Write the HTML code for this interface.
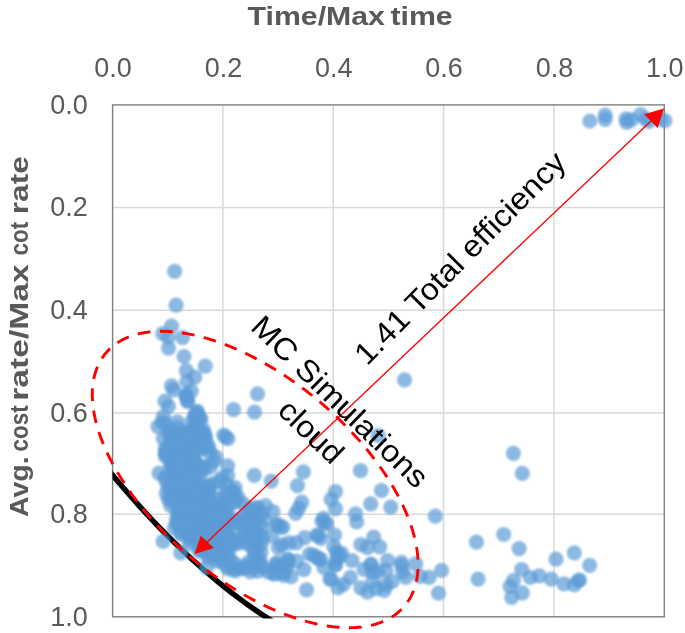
<!DOCTYPE html><html><head><meta charset="utf-8"><title>Chart</title><style>html,body{margin:0;padding:0;background:#fff}svg{display:block}text{font-family:"Liberation Sans",sans-serif}</style></head><body>
<svg width="685" height="633" viewBox="0 0 685 633">
<rect width="685" height="633" fill="#fff"/>
<g>
<defs><clipPath id="pa"><rect x="112.6" y="104.9" width="551.7" height="513.6"/></clipPath></defs>
<path d="M222.9 104.9V616.8M333.3 104.9V616.8M443.6 104.9V616.8M554.0 104.9V616.8M112.6 207.5H664.3M112.6 310.3H664.3M112.6 413.0H664.3M112.6 514.2H664.3" stroke="#d9d9d9" stroke-width="1.5" fill="none"/>
<rect x="112.6" y="104.9" width="551.7" height="511.9" fill="none" stroke="#7f7f7f" stroke-width="1.4"/>
<path d="M105.00 465.91 L109.36 471.24 L113.72 476.50 L118.08 481.69 L122.44 486.81 L126.79 491.86 L131.15 496.84 L135.51 501.76 L139.87 506.61 L144.23 511.38 L148.59 516.09 L152.95 520.73 L157.31 525.30 L161.67 529.81 L166.03 534.24 L170.38 538.61 L174.74 542.91 L179.10 547.14 L183.46 551.30 L187.82 555.39 L192.18 559.41 L196.54 563.37 L200.90 567.25 L205.26 571.07 L209.62 574.82 L213.97 578.50 L218.33 582.11 L222.69 585.65 L227.05 589.13 L231.41 592.54 L235.77 595.87 L240.13 599.14 L244.49 602.34 L248.85 605.47 L253.21 608.54 L257.56 611.53 L261.92 614.46 L266.28 617.31 L270.64 620.10 L275.00 622.82" stroke="#000" stroke-width="5.4" fill="none" clip-path="url(#pa)"/>
<defs><filter id="bl" x="100" y="90" width="585" height="543" filterUnits="userSpaceOnUse"><feGaussianBlur stdDeviation="0.8"/></filter></defs>
<g fill="#5b9bd5" fill-opacity="0.7" filter="url(#bl)">
<circle cx="184.7" cy="433.5" r="7.6"/>
<circle cx="198.3" cy="465.5" r="7.6"/>
<circle cx="167.7" cy="486.6" r="7.6"/>
<circle cx="191.8" cy="421.4" r="7.6"/>
<circle cx="191.2" cy="534.2" r="7.6"/>
<circle cx="171.9" cy="444.3" r="7.6"/>
<circle cx="182.5" cy="432.5" r="7.6"/>
<circle cx="171.5" cy="457.0" r="7.6"/>
<circle cx="201.2" cy="506.2" r="7.6"/>
<circle cx="187.8" cy="492.6" r="7.6"/>
<circle cx="177.2" cy="512.4" r="7.6"/>
<circle cx="191.4" cy="457.8" r="7.6"/>
<circle cx="183.2" cy="529.4" r="7.6"/>
<circle cx="200.8" cy="489.3" r="7.6"/>
<circle cx="220.0" cy="519.7" r="7.6"/>
<circle cx="171.6" cy="473.3" r="7.6"/>
<circle cx="208.5" cy="499.6" r="7.6"/>
<circle cx="217.8" cy="551.8" r="7.6"/>
<circle cx="194.3" cy="510.0" r="7.6"/>
<circle cx="227.6" cy="533.5" r="7.6"/>
<circle cx="188.7" cy="510.6" r="7.6"/>
<circle cx="165.4" cy="479.8" r="7.6"/>
<circle cx="179.8" cy="469.3" r="7.6"/>
<circle cx="192.7" cy="492.9" r="7.6"/>
<circle cx="220.5" cy="533.1" r="7.6"/>
<circle cx="190.6" cy="464.5" r="7.6"/>
<circle cx="220.6" cy="553.7" r="7.6"/>
<circle cx="175.3" cy="445.6" r="7.6"/>
<circle cx="178.9" cy="483.3" r="7.6"/>
<circle cx="187.6" cy="495.4" r="7.6"/>
<circle cx="197.0" cy="503.0" r="7.6"/>
<circle cx="221.6" cy="527.2" r="7.6"/>
<circle cx="220.0" cy="529.9" r="7.6"/>
<circle cx="189.1" cy="470.4" r="7.6"/>
<circle cx="170.6" cy="505.5" r="7.6"/>
<circle cx="177.4" cy="435.2" r="7.6"/>
<circle cx="170.5" cy="465.2" r="7.6"/>
<circle cx="203.3" cy="433.1" r="7.6"/>
<circle cx="186.2" cy="465.3" r="7.6"/>
<circle cx="195.0" cy="423.8" r="7.6"/>
<circle cx="170.5" cy="462.1" r="7.6"/>
<circle cx="180.9" cy="534.5" r="7.6"/>
<circle cx="197.8" cy="432.8" r="7.6"/>
<circle cx="180.7" cy="465.6" r="7.6"/>
<circle cx="218.6" cy="531.1" r="7.6"/>
<circle cx="216.4" cy="521.2" r="7.6"/>
<circle cx="178.5" cy="488.1" r="7.6"/>
<circle cx="165.8" cy="452.6" r="7.6"/>
<circle cx="208.3" cy="553.5" r="7.6"/>
<circle cx="187.3" cy="443.8" r="7.6"/>
<circle cx="178.5" cy="440.3" r="7.6"/>
<circle cx="177.1" cy="504.0" r="7.6"/>
<circle cx="221.6" cy="536.2" r="7.6"/>
<circle cx="194.7" cy="508.3" r="7.6"/>
<circle cx="206.3" cy="546.6" r="7.6"/>
<circle cx="214.1" cy="522.8" r="7.6"/>
<circle cx="194.6" cy="437.6" r="7.6"/>
<circle cx="172.1" cy="433.5" r="7.6"/>
<circle cx="221.9" cy="531.2" r="7.6"/>
<circle cx="177.5" cy="448.5" r="7.6"/>
<circle cx="182.7" cy="446.8" r="7.6"/>
<circle cx="201.5" cy="449.6" r="7.6"/>
<circle cx="190.8" cy="430.5" r="7.6"/>
<circle cx="193.3" cy="497.9" r="7.6"/>
<circle cx="198.0" cy="489.0" r="7.6"/>
<circle cx="165.2" cy="476.6" r="7.6"/>
<circle cx="175.0" cy="481.6" r="7.6"/>
<circle cx="184.9" cy="488.2" r="7.6"/>
<circle cx="199.5" cy="527.9" r="7.6"/>
<circle cx="170.8" cy="494.5" r="7.6"/>
<circle cx="179.9" cy="452.3" r="7.6"/>
<circle cx="200.0" cy="524.2" r="7.6"/>
<circle cx="203.2" cy="486.3" r="7.6"/>
<circle cx="196.8" cy="514.2" r="7.6"/>
<circle cx="193.0" cy="490.5" r="7.6"/>
<circle cx="208.7" cy="541.6" r="7.6"/>
<circle cx="168.6" cy="446.9" r="7.6"/>
<circle cx="209.8" cy="509.4" r="7.6"/>
<circle cx="191.6" cy="487.8" r="7.6"/>
<circle cx="185.7" cy="440.2" r="7.6"/>
<circle cx="184.4" cy="518.6" r="7.6"/>
<circle cx="214.5" cy="555.8" r="7.6"/>
<circle cx="222.3" cy="533.0" r="7.6"/>
<circle cx="180.6" cy="433.3" r="7.6"/>
<circle cx="204.6" cy="530.4" r="7.6"/>
<circle cx="193.0" cy="461.5" r="7.6"/>
<circle cx="199.4" cy="549.1" r="7.6"/>
<circle cx="172.3" cy="489.5" r="7.6"/>
<circle cx="176.9" cy="457.5" r="7.6"/>
<circle cx="183.5" cy="524.2" r="7.6"/>
<circle cx="182.6" cy="485.5" r="7.6"/>
<circle cx="175.4" cy="462.7" r="7.6"/>
<circle cx="165.2" cy="448.3" r="7.6"/>
<circle cx="195.7" cy="535.4" r="7.6"/>
<circle cx="189.2" cy="486.5" r="7.6"/>
<circle cx="208.0" cy="557.4" r="7.6"/>
<circle cx="217.3" cy="516.3" r="7.6"/>
<circle cx="217.8" cy="540.7" r="7.6"/>
<circle cx="179.5" cy="454.7" r="7.6"/>
<circle cx="193.4" cy="434.5" r="7.6"/>
<circle cx="192.5" cy="450.2" r="7.6"/>
<circle cx="199.0" cy="447.4" r="7.6"/>
<circle cx="188.4" cy="481.7" r="7.6"/>
<circle cx="196.2" cy="440.9" r="7.6"/>
<circle cx="165.4" cy="456.3" r="7.6"/>
<circle cx="212.0" cy="509.0" r="7.6"/>
<circle cx="188.9" cy="459.6" r="7.6"/>
<circle cx="210.3" cy="506.8" r="7.6"/>
<circle cx="211.0" cy="532.0" r="7.6"/>
<circle cx="215.5" cy="534.1" r="7.6"/>
<circle cx="201.4" cy="544.0" r="7.6"/>
<circle cx="207.7" cy="514.3" r="7.6"/>
<circle cx="172.5" cy="464.7" r="7.6"/>
<circle cx="199.7" cy="504.5" r="7.6"/>
<circle cx="204.1" cy="512.4" r="7.6"/>
<circle cx="196.2" cy="490.7" r="7.6"/>
<circle cx="168.8" cy="450.6" r="7.6"/>
<circle cx="207.8" cy="525.3" r="7.6"/>
<circle cx="203.5" cy="506.8" r="7.6"/>
<circle cx="169.0" cy="433.0" r="7.6"/>
<circle cx="180.3" cy="521.7" r="7.6"/>
<circle cx="183.5" cy="495.6" r="7.6"/>
<circle cx="181.2" cy="511.1" r="7.6"/>
<circle cx="208.3" cy="511.7" r="7.6"/>
<circle cx="182.6" cy="488.0" r="7.6"/>
<circle cx="193.7" cy="480.5" r="7.6"/>
<circle cx="193.4" cy="533.2" r="7.6"/>
<circle cx="181.2" cy="442.3" r="7.6"/>
<circle cx="220.8" cy="515.8" r="7.6"/>
<circle cx="195.1" cy="414.7" r="7.6"/>
<circle cx="195.5" cy="478.2" r="7.6"/>
<circle cx="186.0" cy="458.1" r="7.6"/>
<circle cx="212.0" cy="536.0" r="7.6"/>
<circle cx="209.6" cy="545.3" r="7.6"/>
<circle cx="182.5" cy="466.5" r="7.6"/>
<circle cx="191.4" cy="452.0" r="7.6"/>
<circle cx="180.0" cy="450.6" r="7.6"/>
<circle cx="196.7" cy="439.3" r="7.6"/>
<circle cx="204.4" cy="547.1" r="7.6"/>
<circle cx="212.2" cy="507.0" r="7.6"/>
<circle cx="183.1" cy="521.1" r="7.6"/>
<circle cx="199.7" cy="469.8" r="7.6"/>
<circle cx="174.7" cy="435.1" r="7.6"/>
<circle cx="195.8" cy="443.8" r="7.6"/>
<circle cx="192.8" cy="431.8" r="7.6"/>
<circle cx="190.5" cy="489.1" r="7.6"/>
<circle cx="188.1" cy="461.4" r="7.6"/>
<circle cx="172.1" cy="486.0" r="7.6"/>
<circle cx="204.3" cy="539.6" r="7.6"/>
<circle cx="177.8" cy="451.4" r="7.6"/>
<circle cx="218.7" cy="555.9" r="7.6"/>
<circle cx="197.4" cy="512.6" r="7.6"/>
<circle cx="172.2" cy="448.5" r="7.6"/>
<circle cx="204.7" cy="515.1" r="7.6"/>
<circle cx="197.6" cy="497.9" r="7.6"/>
<circle cx="188.8" cy="444.3" r="7.6"/>
<circle cx="183.3" cy="479.6" r="7.6"/>
<circle cx="179.0" cy="447.8" r="7.6"/>
<circle cx="225.5" cy="516.0" r="7.6"/>
<circle cx="190.9" cy="449.3" r="7.6"/>
<circle cx="206.7" cy="548.8" r="7.6"/>
<circle cx="185.6" cy="473.7" r="7.6"/>
<circle cx="178.2" cy="524.3" r="7.6"/>
<circle cx="178.3" cy="473.1" r="7.6"/>
<circle cx="206.6" cy="552.4" r="7.6"/>
<circle cx="173.4" cy="469.6" r="7.6"/>
<circle cx="185.1" cy="438.6" r="7.6"/>
<circle cx="223.9" cy="522.2" r="7.6"/>
<circle cx="181.9" cy="463.4" r="7.6"/>
<circle cx="186.8" cy="533.4" r="7.6"/>
<circle cx="211.8" cy="544.9" r="7.6"/>
<circle cx="185.7" cy="451.6" r="7.6"/>
<circle cx="180.8" cy="517.8" r="7.6"/>
<circle cx="184.3" cy="452.1" r="7.6"/>
<circle cx="188.7" cy="448.4" r="7.6"/>
<circle cx="191.5" cy="484.5" r="7.6"/>
<circle cx="216.7" cy="526.1" r="7.6"/>
<circle cx="184.5" cy="464.9" r="7.6"/>
<circle cx="176.6" cy="523.2" r="7.6"/>
<circle cx="166.2" cy="493.3" r="7.6"/>
<circle cx="170.2" cy="485.3" r="7.6"/>
<circle cx="200.3" cy="466.6" r="7.6"/>
<circle cx="196.5" cy="445.5" r="7.6"/>
<circle cx="215.7" cy="508.3" r="7.6"/>
<circle cx="217.8" cy="547.2" r="7.6"/>
<circle cx="166.6" cy="454.8" r="7.6"/>
<circle cx="201.3" cy="549.6" r="7.6"/>
<circle cx="180.6" cy="526.9" r="7.6"/>
<circle cx="202.2" cy="503.4" r="7.6"/>
<circle cx="177.9" cy="465.9" r="7.6"/>
<circle cx="173.0" cy="441.4" r="7.6"/>
<circle cx="180.3" cy="500.3" r="7.6"/>
<circle cx="184.0" cy="441.3" r="7.6"/>
<circle cx="199.2" cy="506.2" r="7.6"/>
<circle cx="169.8" cy="435.4" r="7.6"/>
<circle cx="182.1" cy="456.8" r="7.6"/>
<circle cx="190.7" cy="539.8" r="7.6"/>
<circle cx="176.6" cy="519.5" r="7.6"/>
<circle cx="203.8" cy="466.3" r="7.6"/>
<circle cx="196.3" cy="432.7" r="7.6"/>
<circle cx="195.4" cy="530.9" r="7.6"/>
<circle cx="203.7" cy="533.9" r="7.6"/>
<circle cx="174.3" cy="528.1" r="7.6"/>
<circle cx="189.9" cy="537.1" r="7.6"/>
<circle cx="178.0" cy="470.6" r="7.6"/>
<circle cx="197.1" cy="468.2" r="7.6"/>
<circle cx="171.5" cy="500.3" r="7.6"/>
<circle cx="183.6" cy="473.6" r="7.6"/>
<circle cx="170.9" cy="430.1" r="7.6"/>
<circle cx="196.7" cy="417.1" r="7.6"/>
<circle cx="210.9" cy="526.9" r="7.6"/>
<circle cx="196.7" cy="419.1" r="7.6"/>
<circle cx="214.5" cy="549.7" r="7.6"/>
<circle cx="181.6" cy="532.5" r="7.6"/>
<circle cx="180.8" cy="486.4" r="7.6"/>
<circle cx="201.1" cy="542.5" r="7.6"/>
<circle cx="204.3" cy="469.7" r="7.6"/>
<circle cx="187.1" cy="524.9" r="7.6"/>
<circle cx="192.3" cy="437.3" r="7.6"/>
<circle cx="201.5" cy="509.9" r="7.6"/>
<circle cx="178.5" cy="508.3" r="7.6"/>
<circle cx="178.4" cy="498.0" r="7.6"/>
<circle cx="194.4" cy="431.1" r="7.6"/>
<circle cx="205.3" cy="494.8" r="7.6"/>
<circle cx="186.4" cy="507.2" r="7.6"/>
<circle cx="198.0" cy="471.5" r="7.6"/>
<circle cx="199.3" cy="551.2" r="7.6"/>
<circle cx="176.8" cy="501.6" r="7.6"/>
<circle cx="196.4" cy="506.6" r="7.6"/>
<circle cx="183.8" cy="455.7" r="7.6"/>
<circle cx="214.1" cy="517.6" r="7.6"/>
<circle cx="185.5" cy="522.7" r="7.6"/>
<circle cx="208.5" cy="537.0" r="7.6"/>
<circle cx="199.4" cy="476.0" r="7.6"/>
<circle cx="181.0" cy="506.7" r="7.6"/>
<circle cx="180.7" cy="446.2" r="7.6"/>
<circle cx="211.6" cy="551.8" r="7.6"/>
<circle cx="210.4" cy="496.0" r="7.6"/>
<circle cx="186.1" cy="432.1" r="7.6"/>
<circle cx="208.3" cy="505.4" r="7.6"/>
<circle cx="208.6" cy="520.8" r="7.6"/>
<circle cx="168.2" cy="499.0" r="7.6"/>
<circle cx="216.5" cy="543.8" r="7.6"/>
<circle cx="222.5" cy="551.7" r="7.6"/>
<circle cx="177.2" cy="427.7" r="7.6"/>
<circle cx="196.2" cy="537.9" r="7.6"/>
<circle cx="190.4" cy="476.0" r="7.6"/>
<circle cx="209.1" cy="491.1" r="7.6"/>
<circle cx="195.4" cy="484.2" r="7.6"/>
<circle cx="195.7" cy="462.7" r="7.6"/>
<circle cx="177.7" cy="515.2" r="7.6"/>
<circle cx="195.9" cy="427.4" r="7.6"/>
<circle cx="214.4" cy="514.9" r="7.6"/>
<circle cx="214.4" cy="504.6" r="7.6"/>
<circle cx="186.8" cy="470.8" r="7.6"/>
<circle cx="189.3" cy="543.7" r="7.6"/>
<circle cx="178.9" cy="479.7" r="7.6"/>
<circle cx="198.0" cy="523.4" r="7.6"/>
<circle cx="186.3" cy="459.7" r="7.6"/>
<circle cx="206.4" cy="521.6" r="7.6"/>
<circle cx="174.9" cy="476.4" r="7.6"/>
<circle cx="172.1" cy="479.8" r="7.6"/>
<circle cx="176.3" cy="455.9" r="7.6"/>
<circle cx="179.8" cy="459.7" r="7.6"/>
<circle cx="197.4" cy="435.0" r="7.6"/>
<circle cx="226.4" cy="519.6" r="7.6"/>
<circle cx="214.9" cy="520.3" r="7.6"/>
<circle cx="191.8" cy="440.2" r="7.6"/>
<circle cx="177.2" cy="468.9" r="7.6"/>
<circle cx="208.4" cy="485.6" r="7.6"/>
<circle cx="173.1" cy="501.0" r="7.6"/>
<circle cx="189.9" cy="521.4" r="7.6"/>
<circle cx="200.7" cy="522.6" r="7.6"/>
<circle cx="191.0" cy="445.1" r="7.6"/>
<circle cx="210.2" cy="542.1" r="7.6"/>
<circle cx="218.6" cy="512.3" r="7.6"/>
<circle cx="184.0" cy="504.6" r="7.6"/>
<circle cx="193.1" cy="503.6" r="7.6"/>
<circle cx="190.2" cy="511.6" r="7.6"/>
<circle cx="205.9" cy="526.9" r="7.6"/>
<circle cx="188.9" cy="484.0" r="7.6"/>
<circle cx="214.0" cy="551.1" r="7.6"/>
<circle cx="197.2" cy="426.1" r="7.6"/>
<circle cx="200.8" cy="491.6" r="7.6"/>
<circle cx="209.9" cy="487.3" r="7.6"/>
<circle cx="181.0" cy="444.4" r="7.6"/>
<circle cx="197.7" cy="443.6" r="7.6"/>
<circle cx="215.8" cy="505.5" r="7.6"/>
<circle cx="194.0" cy="494.7" r="7.6"/>
<circle cx="216.4" cy="532.6" r="7.6"/>
<circle cx="194.0" cy="454.9" r="7.6"/>
<circle cx="199.1" cy="429.6" r="7.6"/>
<circle cx="191.3" cy="438.7" r="7.6"/>
<circle cx="183.3" cy="482.5" r="7.6"/>
<circle cx="191.4" cy="506.0" r="7.6"/>
<circle cx="223.4" cy="538.3" r="7.6"/>
<circle cx="170.5" cy="432.3" r="7.6"/>
<circle cx="179.0" cy="526.7" r="7.6"/>
<circle cx="221.9" cy="529.0" r="7.6"/>
<circle cx="202.9" cy="527.4" r="7.6"/>
<circle cx="227.7" cy="551.4" r="7.6"/>
<circle cx="232.2" cy="543.8" r="7.6"/>
<circle cx="226.6" cy="515.8" r="7.6"/>
<circle cx="228.3" cy="556.5" r="7.6"/>
<circle cx="221.7" cy="562.5" r="7.6"/>
<circle cx="220.0" cy="556.7" r="7.6"/>
<circle cx="217.9" cy="499.4" r="7.6"/>
<circle cx="210.4" cy="452.9" r="7.6"/>
<circle cx="229.4" cy="504.4" r="7.6"/>
<circle cx="205.9" cy="440.1" r="7.6"/>
<circle cx="225.5" cy="496.4" r="7.6"/>
<circle cx="207.6" cy="446.1" r="7.6"/>
<circle cx="213.7" cy="461.6" r="7.6"/>
<circle cx="236.1" cy="523.2" r="7.6"/>
<circle cx="221.4" cy="504.3" r="7.6"/>
<circle cx="219.6" cy="481.2" r="7.6"/>
<circle cx="210.1" cy="467.1" r="7.6"/>
<circle cx="229.0" cy="539.2" r="7.6"/>
<circle cx="229.2" cy="520.5" r="7.6"/>
<circle cx="222.9" cy="509.2" r="7.6"/>
<circle cx="226.5" cy="546.5" r="7.6"/>
<circle cx="228.4" cy="526.0" r="7.6"/>
<circle cx="204.4" cy="434.7" r="7.6"/>
<circle cx="216.7" cy="560.8" r="7.6"/>
<circle cx="235.8" cy="539.7" r="7.6"/>
<circle cx="213.2" cy="483.4" r="7.6"/>
<circle cx="239.8" cy="519.8" r="7.6"/>
<circle cx="227.7" cy="510.8" r="7.6"/>
<circle cx="228.1" cy="534.3" r="7.6"/>
<circle cx="203.3" cy="429.7" r="7.6"/>
<circle cx="229.6" cy="495.4" r="7.6"/>
<circle cx="264.5" cy="520.2" r="7.6"/>
<circle cx="260.3" cy="560.5" r="7.6"/>
<circle cx="226.8" cy="565.9" r="7.6"/>
<circle cx="261.6" cy="527.3" r="7.6"/>
<circle cx="254.2" cy="558.2" r="7.6"/>
<circle cx="257.4" cy="546.9" r="7.6"/>
<circle cx="249.0" cy="528.0" r="7.6"/>
<circle cx="258.4" cy="533.9" r="7.6"/>
<circle cx="241.4" cy="542.9" r="7.6"/>
<circle cx="249.1" cy="509.8" r="7.6"/>
<circle cx="253.3" cy="533.6" r="7.6"/>
<circle cx="238.0" cy="497.0" r="7.6"/>
<circle cx="256.9" cy="507.8" r="7.6"/>
<circle cx="234.9" cy="501.7" r="7.6"/>
<circle cx="243.7" cy="529.8" r="7.6"/>
<circle cx="247.6" cy="543.4" r="7.6"/>
<circle cx="250.2" cy="518.4" r="7.6"/>
<circle cx="234.5" cy="544.6" r="7.6"/>
<circle cx="232.0" cy="490.5" r="7.6"/>
<circle cx="244.7" cy="520.9" r="7.6"/>
<circle cx="227.8" cy="475.6" r="7.6"/>
<circle cx="226.3" cy="483.9" r="7.6"/>
<circle cx="253.8" cy="539.2" r="7.6"/>
<circle cx="231.0" cy="560.0" r="7.6"/>
<circle cx="239.9" cy="519.0" r="7.6"/>
<circle cx="246.1" cy="566.2" r="7.6"/>
<circle cx="261.1" cy="552.0" r="7.6"/>
<circle cx="255.0" cy="513.8" r="7.6"/>
<circle cx="240.7" cy="537.8" r="7.6"/>
<circle cx="251.9" cy="547.3" r="7.6"/>
<circle cx="236.3" cy="564.6" r="7.6"/>
<circle cx="254.5" cy="523.1" r="7.6"/>
<circle cx="246.2" cy="537.3" r="7.6"/>
<circle cx="252.5" cy="567.6" r="7.6"/>
<circle cx="261.5" cy="543.4" r="7.6"/>
<circle cx="242.9" cy="503.7" r="7.6"/>
<circle cx="261.7" cy="513.3" r="7.6"/>
<circle cx="225.4" cy="492.0" r="7.6"/>
<circle cx="258.4" cy="518.2" r="7.6"/>
<circle cx="255.2" cy="529.0" r="7.6"/>
<circle cx="245.7" cy="515.2" r="7.6"/>
<circle cx="249.0" cy="561.9" r="7.6"/>
<circle cx="234.1" cy="569.2" r="7.6"/>
<circle cx="254.4" cy="551.8" r="7.6"/>
<circle cx="241.2" cy="568.6" r="7.6"/>
<circle cx="262.3" cy="537.2" r="7.6"/>
<circle cx="240.4" cy="524.7" r="7.6"/>
<circle cx="589.8" cy="121.0" r="7.6"/>
<circle cx="605.2" cy="115.1" r="7.6"/>
<circle cx="605.2" cy="119.3" r="7.6"/>
<circle cx="626.1" cy="118.8" r="7.6"/>
<circle cx="626.7" cy="122.3" r="7.6"/>
<circle cx="631.2" cy="119.9" r="7.6"/>
<circle cx="640.5" cy="114.6" r="7.6"/>
<circle cx="645.7" cy="119.1" r="7.6"/>
<circle cx="648.9" cy="121.5" r="7.6"/>
<circle cx="660.1" cy="119.1" r="7.6"/>
<circle cx="664.9" cy="120.7" r="7.6"/>
<circle cx="174.7" cy="271.4" r="7.6"/>
<circle cx="176.1" cy="305.2" r="7.6"/>
<circle cx="171.5" cy="326.2" r="7.6"/>
<circle cx="162.8" cy="333.7" r="7.6"/>
<circle cx="168.2" cy="337.2" r="7.6"/>
<circle cx="182.6" cy="337.6" r="7.6"/>
<circle cx="168.5" cy="348.1" r="7.6"/>
<circle cx="184.0" cy="356.5" r="7.6"/>
<circle cx="205.3" cy="366.1" r="7.6"/>
<circle cx="186.4" cy="370.7" r="7.6"/>
<circle cx="194.8" cy="377.2" r="7.6"/>
<circle cx="186.9" cy="381.5" r="7.6"/>
<circle cx="171.5" cy="385.9" r="7.6"/>
<circle cx="173.8" cy="389.9" r="7.6"/>
<circle cx="191.3" cy="391.2" r="7.6"/>
<circle cx="186.1" cy="396.4" r="7.6"/>
<circle cx="165.0" cy="401.2" r="7.6"/>
<circle cx="168.5" cy="406.4" r="7.6"/>
<circle cx="187.8" cy="400.8" r="7.6"/>
<circle cx="233.5" cy="409.6" r="7.6"/>
<circle cx="254.5" cy="412.2" r="7.6"/>
<circle cx="257.5" cy="393.8" r="7.6"/>
<circle cx="197.4" cy="411.3" r="7.6"/>
<circle cx="194.8" cy="416.6" r="7.6"/>
<circle cx="200.0" cy="418.3" r="7.6"/>
<circle cx="163.3" cy="416.6" r="7.6"/>
<circle cx="158.0" cy="426.6" r="7.6"/>
<circle cx="177.3" cy="421.8" r="7.6"/>
<circle cx="165.0" cy="423.6" r="7.6"/>
<circle cx="223.7" cy="435.0" r="7.6"/>
<circle cx="227.8" cy="438.7" r="7.6"/>
<circle cx="205.3" cy="435.8" r="7.6"/>
<circle cx="163.3" cy="438.5" r="7.6"/>
<circle cx="165.0" cy="453.4" r="7.6"/>
<circle cx="161.9" cy="422.1" r="7.6"/>
<circle cx="159.0" cy="473.2" r="7.6"/>
<circle cx="227.6" cy="465.9" r="7.6"/>
<circle cx="215.9" cy="457.2" r="7.6"/>
<circle cx="208.6" cy="446.9" r="7.6"/>
<circle cx="221.8" cy="477.6" r="7.6"/>
<circle cx="163.2" cy="541.4" r="7.6"/>
<circle cx="180.7" cy="552.8" r="7.6"/>
<circle cx="235.1" cy="487.7" r="7.6"/>
<circle cx="236.0" cy="500.8" r="7.6"/>
<circle cx="254.2" cy="475.3" r="7.6"/>
<circle cx="271.2" cy="481.2" r="7.6"/>
<circle cx="234.2" cy="492.8" r="7.6"/>
<circle cx="303.4" cy="471.9" r="7.6"/>
<circle cx="297.5" cy="485.6" r="7.6"/>
<circle cx="360.5" cy="470.7" r="7.6"/>
<circle cx="335.5" cy="491.7" r="7.6"/>
<circle cx="331.1" cy="499.4" r="7.6"/>
<circle cx="335.5" cy="508.7" r="7.6"/>
<circle cx="301.7" cy="502.2" r="7.6"/>
<circle cx="298.7" cy="508.2" r="7.6"/>
<circle cx="295.7" cy="513.4" r="7.6"/>
<circle cx="265.4" cy="505.7" r="7.6"/>
<circle cx="272.9" cy="511.7" r="7.6"/>
<circle cx="355.6" cy="513.9" r="7.6"/>
<circle cx="356.7" cy="522.0" r="7.6"/>
<circle cx="323.2" cy="518.3" r="7.6"/>
<circle cx="325.0" cy="522.7" r="7.6"/>
<circle cx="277.7" cy="524.5" r="7.6"/>
<circle cx="282.9" cy="527.1" r="7.6"/>
<circle cx="318.0" cy="535.8" r="7.6"/>
<circle cx="334.6" cy="535.0" r="7.6"/>
<circle cx="304.8" cy="537.6" r="7.6"/>
<circle cx="296.1" cy="542.9" r="7.6"/>
<circle cx="282.0" cy="544.6" r="7.6"/>
<circle cx="289.0" cy="542.9" r="7.6"/>
<circle cx="271.5" cy="535.8" r="7.6"/>
<circle cx="336.4" cy="551.6" r="7.6"/>
<circle cx="341.6" cy="553.4" r="7.6"/>
<circle cx="313.6" cy="555.1" r="7.6"/>
<circle cx="360.9" cy="544.6" r="7.6"/>
<circle cx="250.5" cy="507.8" r="7.6"/>
<circle cx="257.5" cy="507.8" r="7.6"/>
<circle cx="278.3" cy="547.6" r="7.6"/>
<circle cx="288.2" cy="559.7" r="7.6"/>
<circle cx="276.9" cy="562.5" r="7.6"/>
<circle cx="303.9" cy="569.6" r="7.6"/>
<circle cx="296.8" cy="561.1" r="7.6"/>
<circle cx="282.6" cy="572.5" r="7.6"/>
<circle cx="291.1" cy="576.7" r="7.6"/>
<circle cx="309.6" cy="554.0" r="7.6"/>
<circle cx="306.6" cy="589.9" r="7.6"/>
<circle cx="283.8" cy="575.5" r="7.6"/>
<circle cx="276.8" cy="567.7" r="7.6"/>
<circle cx="287.3" cy="563.3" r="7.6"/>
<circle cx="318.8" cy="558.9" r="7.6"/>
<circle cx="324.1" cy="567.7" r="7.6"/>
<circle cx="339.9" cy="556.3" r="7.6"/>
<circle cx="335.5" cy="565.0" r="7.6"/>
<circle cx="331.1" cy="579.1" r="7.6"/>
<circle cx="338.1" cy="587.8" r="7.6"/>
<circle cx="343.4" cy="584.3" r="7.6"/>
<circle cx="350.4" cy="577.3" r="7.6"/>
<circle cx="352.1" cy="560.7" r="7.6"/>
<circle cx="360.9" cy="587.8" r="7.6"/>
<circle cx="262.8" cy="566.8" r="7.6"/>
<circle cx="250.5" cy="572.0" r="7.6"/>
<circle cx="243.5" cy="568.5" r="7.6"/>
<circle cx="257.5" cy="556.3" r="7.6"/>
<circle cx="228.0" cy="569.0" r="7.6"/>
<circle cx="235.0" cy="571.0" r="7.6"/>
<circle cx="268.0" cy="572.0" r="7.6"/>
<circle cx="273.0" cy="574.0" r="7.6"/>
<circle cx="381.5" cy="490.5" r="7.6"/>
<circle cx="370.7" cy="503.9" r="7.6"/>
<circle cx="390.8" cy="507.1" r="7.6"/>
<circle cx="435.3" cy="516.2" r="7.6"/>
<circle cx="373.7" cy="537.2" r="7.6"/>
<circle cx="367.5" cy="547.7" r="7.6"/>
<circle cx="379.8" cy="546.9" r="7.6"/>
<circle cx="387.7" cy="560.7" r="7.6"/>
<circle cx="371.0" cy="564.2" r="7.6"/>
<circle cx="364.0" cy="569.4" r="7.6"/>
<circle cx="372.8" cy="572.0" r="7.6"/>
<circle cx="378.0" cy="571.2" r="7.6"/>
<circle cx="385.9" cy="570.3" r="7.6"/>
<circle cx="401.3" cy="562.4" r="7.6"/>
<circle cx="402.6" cy="572.0" r="7.6"/>
<circle cx="405.7" cy="577.3" r="7.6"/>
<circle cx="415.7" cy="563.8" r="7.6"/>
<circle cx="420.1" cy="576.4" r="7.6"/>
<circle cx="429.2" cy="577.3" r="7.6"/>
<circle cx="441.6" cy="570.3" r="7.6"/>
<circle cx="438.5" cy="593.1" r="7.6"/>
<circle cx="367.5" cy="592.2" r="7.6"/>
<circle cx="376.3" cy="588.7" r="7.6"/>
<circle cx="384.2" cy="590.4" r="7.6"/>
<circle cx="385.9" cy="585.2" r="7.6"/>
<circle cx="392.0" cy="581.7" r="7.6"/>
<circle cx="372.8" cy="580.8" r="7.6"/>
<circle cx="513.4" cy="453.4" r="7.6"/>
<circle cx="522.3" cy="473.3" r="7.6"/>
<circle cx="476.5" cy="542.2" r="7.6"/>
<circle cx="503.7" cy="534.5" r="7.6"/>
<circle cx="519.1" cy="548.6" r="7.6"/>
<circle cx="556.0" cy="559.2" r="7.6"/>
<circle cx="574.3" cy="552.8" r="7.6"/>
<circle cx="589.7" cy="565.3" r="7.6"/>
<circle cx="521.7" cy="569.5" r="7.6"/>
<circle cx="530.3" cy="577.5" r="7.6"/>
<circle cx="539.3" cy="575.9" r="7.6"/>
<circle cx="551.2" cy="579.1" r="7.6"/>
<circle cx="564.0" cy="583.9" r="7.6"/>
<circle cx="574.3" cy="584.9" r="7.6"/>
<circle cx="578.4" cy="580.7" r="7.6"/>
<circle cx="478.1" cy="579.1" r="7.6"/>
<circle cx="513.4" cy="580.7" r="7.6"/>
<circle cx="510.1" cy="586.5" r="7.6"/>
<circle cx="522.3" cy="592.9" r="7.6"/>
<circle cx="511.7" cy="597.4" r="7.6"/>
<circle cx="404.5" cy="379.9" r="7.6"/>
<circle cx="378.2" cy="435.5" r="7.6"/>
<circle cx="206.5" cy="567.5" r="7.6"/>
<circle cx="276.7" cy="525.3" r="7.6"/>
<circle cx="280.6" cy="527.2" r="7.6"/>
<circle cx="322.0" cy="521.3" r="7.6"/>
<circle cx="326.6" cy="523.9" r="7.6"/>
<circle cx="316.8" cy="535.1" r="7.6"/>
<circle cx="320.7" cy="538.4" r="7.6"/>
<circle cx="333.8" cy="546.3" r="7.6"/>
<circle cx="337.8" cy="554.2" r="7.6"/>
<circle cx="336.5" cy="559.4" r="7.6"/>
<circle cx="335.1" cy="564.7" r="7.6"/>
<circle cx="287.8" cy="559.4" r="7.6"/>
<circle cx="276.0" cy="564.7" r="7.6"/>
<circle cx="281.3" cy="566.0" r="7.6"/>
<circle cx="286.5" cy="567.3" r="7.6"/>
<circle cx="276.0" cy="573.9" r="7.6"/>
<circle cx="260.3" cy="566.0" r="7.6"/>
<circle cx="257.6" cy="571.2" r="7.6"/>
<circle cx="329.9" cy="579.1" r="7.6"/>
<circle cx="316.8" cy="557.4" r="7.6"/>
<circle cx="320.7" cy="559.4" r="7.6"/>
<circle cx="401.8" cy="565.7" r="7.6"/>
<circle cx="370.9" cy="565.1" r="7.6"/>
<circle cx="186.5" cy="397.5" r="7.6"/>
<circle cx="187.5" cy="401.5" r="7.6"/>
<circle cx="186.0" cy="394.5" r="7.6"/>
<circle cx="197.0" cy="412.0" r="7.6"/>
<circle cx="199.0" cy="416.0" r="7.6"/>
<circle cx="196.0" cy="414.5" r="7.6"/>
<circle cx="201.0" cy="419.0" r="7.6"/>
<circle cx="225.5" cy="437.0" r="7.6"/>
<circle cx="579.5" cy="580.0" r="7.6"/>
</g>
<path d="M159.81 331.31 L160.96 331.30 L162.12 331.30 L163.29 331.31 L164.47 331.33 L165.66 331.36 L166.85 331.40 L168.04 331.46 L169.25 331.52 L170.46 331.60 L171.68 331.69 L172.90 331.79 L174.13 331.90 L175.37 332.03 L176.61 332.16 L177.86 332.31 L179.11 332.46 L180.37 332.63 L181.64 332.81 L182.91 333.00 L184.18 333.20 L185.46 333.41 L186.75 333.63 L188.04 333.87 L189.34 334.11 L190.65 334.37 L191.95 334.64 L193.27 334.92 L194.58 335.21 L195.90 335.51 L197.23 335.82 L198.56 336.14 L199.90 336.48 L201.23 336.82 L202.58 337.18 L203.93 337.54 L205.28 337.92 L206.63 338.31 L207.99 338.70 L209.35 339.11 L210.72 339.53 L212.09 339.96 L213.46 340.41 L214.84 340.86 L216.21 341.32 L217.60 341.79 L218.98 342.28 L220.37 342.77 L221.76 343.27 L223.15 343.79 L224.55 344.31 L225.94 344.85 L227.34 345.39 L228.74 345.95 L230.15 346.52 L231.55 347.09 L232.96 347.68 L234.37 348.27 L235.78 348.88 L237.19 349.50 L238.61 350.12 L240.02 350.76 L241.44 351.40 L242.85 352.06 L244.27 352.72 L245.69 353.40 L247.11 354.08 L248.53 354.78 L249.95 355.48 L251.37 356.19 L252.79 356.91 L254.21 357.65 L255.63 358.39 L257.06 359.14 L258.48 359.90 L259.90 360.66 L261.32 361.44 L262.74 362.23 L264.16 363.02 L265.58 363.83 L267.00 364.64 L268.41 365.46 L269.83 366.29 L271.25 367.13 L272.66 367.98 L274.07 368.84 L275.48 369.70 L276.89 370.57 L278.30 371.45 L279.71 372.34 L281.11 373.24 L282.51 374.15 L283.91 375.06 L285.31 375.98 L286.71 376.91 L288.10 377.85 L289.49 378.79 L290.88 379.75 L292.27 380.71 L293.65 381.67 L295.03 382.65 L296.41 383.63 L297.78 384.62 L299.15 385.62 L300.52 386.62 L301.88 387.64 L303.24 388.65 L304.60 389.68 L305.95 390.71 L307.30 391.75 L308.64 392.80 L309.99 393.85 L311.32 394.91 L312.65 395.97 L313.98 397.04 L315.31 398.12 L316.62 399.20 L317.94 400.30 L319.25 401.39 L320.55 402.49 L321.85 403.60 L323.15 404.72 L324.44 405.83 L325.72 406.96 L327.00 408.09 L328.27 409.23 L329.54 410.37 L330.80 411.51 L332.06 412.67 L333.31 413.82 L334.55 414.98 L335.79 416.15 L337.02 417.32 L338.25 418.50 L339.47 419.68 L340.68 420.87 L341.89 422.06 L343.09 423.25 L344.28 424.45 L345.47 425.65 L346.65 426.86 L347.82 428.07 L348.99 429.28 L350.15 430.50 L351.30 431.73 L352.44 432.95 L353.58 434.18 L354.71 435.42 L355.83 436.65 L356.94 437.89 L358.05 439.13 L359.15 440.38 L360.24 441.63 L361.32 442.88 L362.40 444.14 L363.46 445.39 L364.52 446.65 L365.57 447.92 L366.61 449.18 L367.64 450.45 L368.67 451.72 L369.68 452.99 L370.69 454.26 L371.69 455.54 L372.68 456.81 L373.66 458.09 L374.63 459.37 L375.59 460.66 L376.54 461.94 L377.49 463.22 L378.42 464.51 L379.35 465.80 L380.26 467.09 L381.17 468.37 L382.07 469.66 L382.95 470.96 L383.83 472.25 L384.70 473.54 L385.55 474.83 L386.40 476.12 L387.24 477.42 L388.07 478.71 L388.88 480.00 L389.69 481.30 L390.49 482.59 L391.27 483.88 L392.05 485.18 L392.82 486.47 L393.57 487.76 L394.32 489.05 L395.05 490.34 L395.77 491.63 L396.49 492.92 L397.19 494.21 L397.88 495.49 L398.56 496.78 L399.23 498.06 L399.89 499.34 L400.54 500.63 L401.17 501.90 L401.80 503.18 L402.41 504.46 L403.02 505.73 L403.61 507.00 L404.19 508.27 L404.76 509.54 L405.31 510.81 L405.86 512.07 L406.40 513.33 L406.92 514.59 L407.43 515.84 L407.93 517.10 L408.42 518.35 L408.90 519.59 L409.36 520.84 L409.81 522.08 L410.26 523.31 L410.69 524.55 L411.10 525.78 L411.51 527.00 L411.90 528.23 L412.29 529.45 L412.66 530.66 L413.01 531.87 L413.36 533.08 L413.69 534.29 L414.02 535.49 L414.33 536.68 L414.62 537.87 L414.91 539.06 L415.18 540.24 L415.45 541.42 L415.69 542.59 L415.93 543.76 L416.16 544.92 L416.37 546.08 L416.57 547.23 L416.76 548.38 L416.93 549.52 L417.10 550.66 L417.25 551.79 L417.39 552.92 L417.51 554.04 L417.63 555.15 L417.73 556.26 L417.82 557.37 L417.89 558.46 L417.96 559.56 L418.01 560.64 L418.05 561.72 L418.08 562.79 L418.09 563.86 L418.09 564.92 L418.08 565.97 L418.06 567.02 L418.03 568.06 L417.98 569.09 L417.92 570.12 L417.85 571.14 L417.76 572.15 L417.67 573.16 L417.56 574.16 L417.44 575.15 L417.30 576.13 L417.16 577.11 L417.00 578.08 L416.83 579.04 L416.64 580.00 L416.45 580.94 L416.24 581.88 L416.02 582.81 L415.79 583.74 L415.54 584.65 L415.29 585.56 L415.02 586.46 L414.74 587.35 L414.44 588.23 L414.14 589.11 L413.82 589.98 L413.49 590.83 L413.15 591.68 L412.80 592.52 L412.43 593.36 L412.05 594.18 L411.66 594.99 L411.26 595.80 L410.85 596.60 L410.42 597.39 L409.99 598.17 L409.54 598.94 L409.08 599.70 L408.61 600.45 L408.12 601.19 L407.63 601.93 L407.12 602.65 L406.60 603.36 L406.07 604.07 L405.53 604.77 L404.97 605.45 L404.41 606.13 L403.83 606.80 L403.25 607.45 L402.65 608.10 L402.04 608.74 L401.42 609.37 L400.79 609.99 L400.14 610.59 L399.49 611.19 L398.82 611.78 L398.15 612.36 L397.46 612.93 L396.76 613.48 L396.05 614.03 L395.33 614.57 L394.60 615.10 L393.86 615.61 L393.11 616.12 L392.35 616.62 L391.58 617.10 L390.79 617.58 L390.00 618.04 L389.20 618.50 L388.39 618.94 L387.56 619.37 L386.73 619.79 L385.88 620.21 L385.03 620.61 L384.17 621.00 L383.29 621.38 L382.41 621.74 L381.52 622.10 L380.62 622.45 L379.70 622.79 L378.78 623.11 L377.85 623.42 L376.91 623.73 L375.96 624.02 L375.00 624.30 L374.04 624.57 L373.06 624.83 L372.07 625.08 L371.08 625.31 L370.08 625.54 L369.06 625.76 L368.04 625.96 L367.01 626.15 L365.98 626.33 L364.93 626.50 L363.87 626.66 L362.81 626.81 L361.74 626.95 L360.66 627.07 L359.57 627.18 L358.48 627.29 L357.37 627.38 L356.26 627.46 L355.14 627.53 L354.02 627.59 L352.88 627.63 L351.74 627.67 L350.59 627.69 L349.44 627.70 L348.28 627.70 L347.11 627.69 L345.93 627.67 L344.74 627.64 L343.55 627.60 L342.36 627.54 L341.15 627.48 L339.94 627.40 L338.72 627.31 L337.50 627.21 L336.27 627.10 L335.03 626.97 L333.79 626.84 L332.54 626.69 L331.29 626.54 L330.03 626.37 L328.76 626.19 L327.49 626.00 L326.22 625.80 L324.94 625.59 L323.65 625.37 L322.36 625.13 L321.06 624.89 L319.75 624.63 L318.45 624.36 L317.13 624.08 L315.82 623.79 L314.50 623.49 L313.17 623.18 L311.84 622.86 L310.50 622.52 L309.17 622.18 L307.82 621.82 L306.47 621.46 L305.12 621.08 L303.77 620.69 L302.41 620.30 L301.05 619.89 L299.68 619.47 L298.31 619.04 L296.94 618.59 L295.56 618.14 L294.19 617.68 L292.80 617.21 L291.42 616.72 L290.03 616.23 L288.64 615.73 L287.25 615.21 L285.85 614.69 L284.46 614.15 L283.06 613.61 L281.66 613.05 L280.25 612.48 L278.85 611.91 L277.44 611.32 L276.03 610.73 L274.62 610.12 L273.21 609.50 L271.79 608.88 L270.38 608.24 L268.96 607.60 L267.55 606.94 L266.13 606.28 L264.71 605.60 L263.29 604.92 L261.87 604.22 L260.45 603.52 L259.03 602.81 L257.61 602.09 L256.19 601.35 L254.77 600.61 L253.34 599.86 L251.92 599.10 L250.50 598.34 L249.08 597.56 L247.66 596.77 L246.24 595.98 L244.82 595.17 L243.40 594.36 L241.99 593.54 L240.57 592.71 L239.15 591.87 L237.74 591.02 L236.33 590.16 L234.92 589.30 L233.51 588.43 L232.10 587.55 L230.69 586.66 L229.29 585.76 L227.89 584.85 L226.49 583.94 L225.09 583.02 L223.69 582.09 L222.30 581.15 L220.91 580.21 L219.52 579.25 L218.13 578.29 L216.75 577.33 L215.37 576.35 L213.99 575.37 L212.62 574.38 L211.25 573.38 L209.88 572.38 L208.52 571.36 L207.16 570.35 L205.80 569.32 L204.45 568.29 L203.10 567.25 L201.76 566.20 L200.41 565.15 L199.08 564.09 L197.75 563.03 L196.42 561.96 L195.09 560.88 L193.78 559.80 L192.46 558.70 L191.15 557.61 L189.85 556.51 L188.55 555.40 L187.25 554.28 L185.96 553.17 L184.68 552.04 L183.40 550.91 L182.13 549.77 L180.86 548.63 L179.60 547.49 L178.34 546.33 L177.09 545.18 L175.85 544.02 L174.61 542.85 L173.38 541.68 L172.15 540.50 L170.93 539.32 L169.72 538.13 L168.51 536.94 L167.31 535.75 L166.12 534.55 L164.93 533.35 L163.75 532.14 L162.58 530.93 L161.41 529.72 L160.25 528.50 L159.10 527.27 L157.96 526.05 L156.82 524.82 L155.69 523.58 L154.57 522.35 L153.46 521.11 L152.35 519.87 L151.25 518.62 L150.16 517.37 L149.08 516.12 L148.00 514.86 L146.94 513.61 L145.88 512.35 L144.83 511.08 L143.79 509.82 L142.76 508.55 L141.73 507.28 L140.72 506.01 L139.71 504.74 L138.71 503.46 L137.72 502.19 L136.74 500.91 L135.77 499.63 L134.81 498.34 L133.86 497.06 L132.91 495.78 L131.98 494.49 L131.05 493.20 L130.14 491.91 L129.23 490.63 L128.33 489.34 L127.45 488.04 L126.57 486.75 L125.70 485.46 L124.85 484.17 L124.00 482.88 L123.16 481.58 L122.33 480.29 L121.52 479.00 L120.71 477.70 L119.91 476.41 L119.13 475.12 L118.35 473.82 L117.58 472.53 L116.83 471.24 L116.08 469.95 L115.35 468.66 L114.63 467.37 L113.91 466.08 L113.21 464.79 L112.52 463.51 L111.84 462.22 L111.17 460.94 L110.51 459.66 L109.86 458.37 L109.23 457.10 L108.60 455.82 L107.99 454.54 L107.38 453.27 L106.79 452.00 L106.21 450.73 L105.64 449.46 L105.09 448.19 L104.54 446.93 L104.00 445.67 L103.48 444.41 L102.97 443.16 L102.47 441.90 L101.98 440.65 L101.50 439.41 L101.04 438.16 L100.59 436.92 L100.14 435.69 L99.71 434.45 L99.30 433.22 L98.89 432.00 L98.50 430.77 L98.11 429.55 L97.74 428.34 L97.39 427.13 L97.04 425.92 L96.71 424.71 L96.38 423.51 L96.07 422.32 L95.78 421.13 L95.49 419.94 L95.22 418.76 L94.95 417.58 L94.71 416.41 L94.47 415.24 L94.24 414.08 L94.03 412.92 L93.83 411.77 L93.64 410.62 L93.47 409.48 L93.30 408.34 L93.15 407.21 L93.01 406.08 L92.89 404.96 L92.77 403.85 L92.67 402.74 L92.58 401.63 L92.51 400.54 L92.44 399.44 L92.39 398.36 L92.35 397.28 L92.32 396.21 L92.31 395.14 L92.31 394.08 L92.32 393.03 L92.34 391.98 L92.37 390.94 L92.42 389.91 L92.48 388.88 L92.55 387.86 L92.64 386.85 L92.73 385.84 L92.84 384.84 L92.96 383.85 L93.10 382.87 L93.24 381.89 L93.40 380.92 L93.57 379.96 L93.76 379.00 L93.95 378.06 L94.16 377.12 L94.38 376.19 L94.61 375.26 L94.86 374.35 L95.11 373.44 L95.38 372.54 L95.66 371.65 L95.96 370.77 L96.26 369.89 L96.58 369.02 L96.91 368.17 L97.25 367.32 L97.60 366.48 L97.97 365.64 L98.35 364.82 L98.74 364.01 L99.14 363.20 L99.55 362.40 L99.98 361.61 L100.41 360.83 L100.86 360.06 L101.32 359.30 L101.79 358.55 L102.28 357.81 L102.77 357.07 L103.28 356.35 L103.80 355.64 L104.33 354.93 L104.87 354.23 L105.43 353.55 L105.99 352.87 L106.57 352.20 L107.15 351.55 L107.75 350.90 L108.36 350.26 L108.98 349.63 L109.61 349.01 L110.26 348.41 L110.91 347.81 L111.58 347.22 L112.25 346.64 L112.94 346.07 L113.64 345.52 L114.35 344.97 L115.07 344.43 L115.80 343.90 L116.54 343.39 L117.29 342.88 L118.05 342.38 L118.82 341.90 L119.61 341.42 L120.40 340.96 L121.20 340.50 L122.01 340.06 L122.84 339.63 L123.67 339.21 L124.52 338.79 L125.37 338.39 L126.23 338.00 L127.11 337.62 L127.99 337.26 L128.88 336.90 L129.78 336.55 L130.70 336.21 L131.62 335.89 L132.55 335.58 L133.49 335.27 L134.44 334.98 L135.40 334.70 L136.36 334.43 L137.34 334.17 L138.33 333.92 L139.32 333.69 L140.32 333.46 L141.34 333.24 L142.36 333.04 L143.39 332.85 L144.42 332.67 L145.47 332.50 L146.53 332.34 L147.59 332.19 L148.66 332.05 L149.74 331.93 L150.83 331.82 L151.92 331.71 L153.03 331.62 L154.14 331.54 L155.26 331.47 L156.38 331.41 L157.52 331.37 L158.66 331.33 Z" fill="none" stroke="#ff0000" stroke-width="2.9" stroke-dasharray="12.784 9.449"/>
<line x1="202.5" y1="546.5" x2="656.0" y2="116.2" stroke="#ff0000" stroke-width="1.35"/>
<polygon points="194.5,554.1 200.8,535.7 213.9,548" fill="#ff0000"/>
<polygon points="664.1,108.6 644.1,114.3 657.7,127.9" fill="#ff0000"/>
<g font-size="26.5" font-weight="bold" fill="#595959"><text x="247.6" y="25.4" textLength="137.3" lengthAdjust="spacingAndGlyphs">Time/Max</text><text x="390.4" y="25.4" textLength="62.3" lengthAdjust="spacingAndGlyphs">time</text></g>
<text x="113.1" y="77.2" text-anchor="middle" font-size="27" fill="#595959" textLength="37.5" lengthAdjust="spacingAndGlyphs">0.0</text>
<text x="223.4" y="77.2" text-anchor="middle" font-size="27" fill="#595959" textLength="37.5" lengthAdjust="spacingAndGlyphs">0.2</text>
<text x="333.8" y="77.2" text-anchor="middle" font-size="27" fill="#595959" textLength="37.5" lengthAdjust="spacingAndGlyphs">0.4</text>
<text x="444.1" y="77.2" text-anchor="middle" font-size="27" fill="#595959" textLength="37.5" lengthAdjust="spacingAndGlyphs">0.6</text>
<text x="554.5" y="77.2" text-anchor="middle" font-size="27" fill="#595959" textLength="37.5" lengthAdjust="spacingAndGlyphs">0.8</text>
<text x="664.8" y="77.2" text-anchor="middle" font-size="27" fill="#595959" textLength="37.5" lengthAdjust="spacingAndGlyphs">1.0</text>
<text x="69" y="113.8" text-anchor="middle" font-size="27" fill="#595959" textLength="37.5" lengthAdjust="spacingAndGlyphs">0.0</text>
<text x="69" y="216.4" text-anchor="middle" font-size="27" fill="#595959" textLength="37.5" lengthAdjust="spacingAndGlyphs">0.2</text>
<text x="69" y="319.2" text-anchor="middle" font-size="27" fill="#595959" textLength="37.5" lengthAdjust="spacingAndGlyphs">0.4</text>
<text x="69" y="421.9" text-anchor="middle" font-size="27" fill="#595959" textLength="37.5" lengthAdjust="spacingAndGlyphs">0.6</text>
<text x="69" y="523.1" text-anchor="middle" font-size="27" fill="#595959" textLength="37.5" lengthAdjust="spacingAndGlyphs">0.8</text>
<text x="69" y="625.7" text-anchor="middle" font-size="27" fill="#595959" textLength="37.5" lengthAdjust="spacingAndGlyphs">1.0</text>
<g transform="translate(27.8 515.6) rotate(-90)" font-size="26" font-weight="bold" fill="#595959">
<text x="-1.5" y="0" textLength="60.8" lengthAdjust="spacingAndGlyphs">Avg.</text>
<text x="64.2" y="0" textLength="46.0" lengthAdjust="spacingAndGlyphs">cost</text>
<text x="114.8" y="0" textLength="136.5" lengthAdjust="spacingAndGlyphs">rate/Max</text>
<text x="260.0" y="0" textLength="33.8" lengthAdjust="spacingAndGlyphs">cot</text>
<text x="301.3" y="0" textLength="58.3" lengthAdjust="spacingAndGlyphs">rate</text>
</g>
<text transform="translate(367.0 366.4) rotate(-45.2)" font-size="30.6" fill="#000" textLength="285" lengthAdjust="spacingAndGlyphs">1.41 Total efficiency</text>
<g transform="translate(332.7 409.2) rotate(44)" font-size="30.6" fill="#000" text-anchor="middle"><text x="0" y="0" textLength="232" lengthAdjust="spacingAndGlyphs">MC Simulations</text><text x="0" y="41.5" textLength="77" lengthAdjust="spacingAndGlyphs">cloud</text></g>
</g></svg></body></html>
